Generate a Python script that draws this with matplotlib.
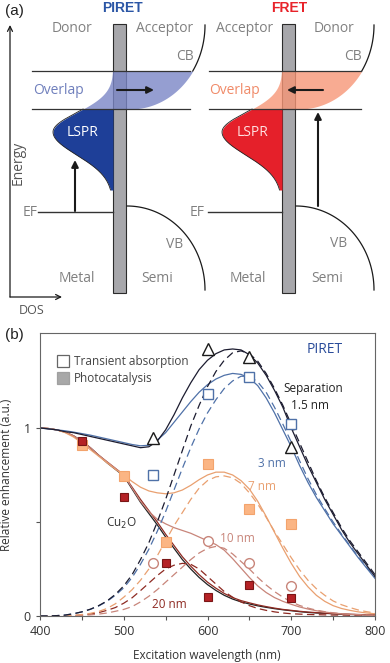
import numpy as np
import matplotlib
matplotlib.use('Agg')
import matplotlib.pyplot as plt
from matplotlib.patches import Rectangle
from matplotlib.lines import Line2D

plt.rcParams['font.family'] = ['Open Sans', 'DejaVu Sans']

# ---------------- panel (b) data ----------------
WL = list(range(400, 801, 10))

SEP15 = [1.00, 0.995, 0.99, 0.98, 0.975, 0.965, 0.955, 0.945, 0.935, 0.925,
         0.915, 0.905, 0.895, 0.90, 0.93, 0.99, 1.07, 1.16, 1.24, 1.31,
         1.36, 1.395, 1.415, 1.42, 1.415, 1.39, 1.345, 1.28, 1.20, 1.11,
         1.00, 0.90, 0.80, 0.71, 0.62, 0.54, 0.46, 0.39, 0.33, 0.27, 0.21]
SEP15_FIT = [0, 0, 0.002, 0.005, 0.012, 0.022, 0.036, 0.055, 0.08, 0.115,
             0.16, 0.22, 0.30, 0.39, 0.50, 0.62, 0.75, 0.88, 1.01, 1.12,
             1.22, 1.30, 1.36, 1.40, 1.41, 1.395, 1.355, 1.29, 1.21, 1.12,
             1.02, 0.92, 0.82, 0.72, 0.63, 0.55, 0.47, 0.40, 0.34, 0.28, 0.22]
SEP3 = [1.00, 0.995, 0.99, 0.985, 0.978, 0.97, 0.962, 0.952, 0.942, 0.932,
        0.922, 0.912, 0.905, 0.908, 0.935, 0.975, 1.03, 1.085, 1.14, 1.19,
        1.23, 1.26, 1.28, 1.29, 1.285, 1.265, 1.225, 1.16, 1.08, 0.99,
        0.90, 0.80, 0.71, 0.63, 0.56, 0.49, 0.43, 0.37, 0.31, 0.255, 0.20]
SEP3_FIT = [0, 0, 0.002, 0.005, 0.012, 0.022, 0.035, 0.053, 0.078, 0.11,
            0.15, 0.205, 0.275, 0.355, 0.45, 0.555, 0.67, 0.785, 0.895, 0.995,
            1.08, 1.15, 1.21, 1.25, 1.275, 1.275, 1.245, 1.19, 1.11, 1.02,
            0.925, 0.825, 0.73, 0.645, 0.57, 0.50, 0.435, 0.375, 0.315, 0.26, 0.205]
SEP7 = [1.00, 0.997, 0.99, 0.975, 0.952, 0.92, 0.885, 0.85, 0.815, 0.78,
        0.75, 0.715, 0.685, 0.665, 0.655, 0.65, 0.655, 0.67, 0.695, 0.725,
        0.75, 0.765, 0.765, 0.75, 0.72, 0.675, 0.61, 0.53, 0.445, 0.36,
        0.28, 0.21, 0.155, 0.11, 0.078, 0.055, 0.04, 0.03, 0.022, 0.016, 0.012]
SEP7_FIT = [0, 0, 0, 0, 0.004, 0.008, 0.014, 0.024, 0.04, 0.065,
            0.10, 0.14, 0.19, 0.25, 0.32, 0.40, 0.48, 0.55, 0.62, 0.68,
            0.72, 0.74, 0.745, 0.735, 0.705, 0.655, 0.595, 0.525, 0.45, 0.38,
            0.31, 0.245, 0.19, 0.145, 0.11, 0.08, 0.06, 0.045, 0.032, 0.023, 0.016]
SEP10 = [1.00, 0.997, 0.99, 0.978, 0.958, 0.93, 0.895, 0.855, 0.82, 0.785,
         0.75, 0.68, 0.61, 0.555, 0.515, 0.49, 0.47, 0.455, 0.44, 0.42,
         0.40, 0.38, 0.35, 0.305, 0.255, 0.205, 0.16, 0.125, 0.098, 0.078,
         0.062, 0.048, 0.037, 0.028, 0.021, 0.016, 0.012, 0.009, 0.007, 0.005, 0.004]
SEP10_FIT = [0, 0, 0, 0, 0, 0.003, 0.006, 0.01, 0.016, 0.025,
             0.035, 0.05, 0.075, 0.105, 0.14, 0.18, 0.22, 0.26, 0.30, 0.335,
             0.36, 0.37, 0.36, 0.33, 0.29, 0.25, 0.205, 0.165, 0.13, 0.10,
             0.075, 0.056, 0.042, 0.031, 0.023, 0.017, 0.012, 0.009, 0.007, 0.005, 0.004]
SEP20 = [1.00, 0.997, 0.99, 0.978, 0.958, 0.93, 0.895, 0.855, 0.82, 0.785,
         0.75, 0.685, 0.62, 0.56, 0.50, 0.435, 0.375, 0.315, 0.265, 0.22,
         0.18, 0.148, 0.12, 0.098, 0.082, 0.07, 0.059, 0.05, 0.042, 0.035,
         0.03, 0.025, 0.021, 0.018, 0.015, 0.013, 0.011, 0.009, 0.008, 0.007, 0.006]
SEP20_FIT = [0, 0, 0, 0, 0.002, 0.005, 0.01, 0.018, 0.03, 0.045,
             0.068, 0.097, 0.135, 0.175, 0.215, 0.25, 0.27, 0.28, 0.275, 0.25,
             0.21, 0.17, 0.13, 0.10, 0.075, 0.055, 0.04, 0.03, 0.022, 0.016,
             0.012, 0.01, 0.008, 0.007, 0.006, 0.005, 0.005, 0.004, 0.004, 0.003, 0.003]
CU2O = [1.00, 0.997, 0.99, 0.978, 0.958, 0.93, 0.895, 0.855, 0.815, 0.78,
        0.745, 0.675, 0.605, 0.545, 0.485, 0.42, 0.36, 0.30, 0.25, 0.205,
        0.167, 0.136, 0.11, 0.09, 0.075, 0.064, 0.054, 0.046, 0.039, 0.033,
        0.028, 0.023, 0.019, 0.016, 0.014, 0.012, 0.01, 0.008, 0.007, 0.006, 0.005]

# transient absorption (open symbols)
TA_WL = [535, 600, 650, 700]
TA_15 = [0.945, 1.42, 1.38, 0.90]
TA_3 = [0.75, 1.18, 1.27, 1.02]
TA_10 = [0.28, 0.40, 0.28, 0.16]
# photocatalysis (filled squares)
PC_WL = [450, 500, 550, 600, 650, 700]
PC_7 = [0.91, 0.745, 0.395, 0.81, 0.57, 0.49]
PC_20 = [0.93, 0.635, 0.28, 0.10, 0.165, 0.097]

C15 = '#1c1c30'
C3 = '#4f71a8'
C7 = '#e9a070'
C10 = '#c8857a'
C20 = '#8e2a22'
CCU = '#222222'

GRAY_TXT = '#808080'

fig = plt.figure(figsize=(3.9, 6.63), dpi=100)

# ---------------- panel (a): schematic, pixel coordinates ----------------
ax_a = fig.add_axes([0, 1 - 320 / 663, 1, 320 / 663])
ax_a.set_xlim(0, 390)
ax_a.set_ylim(320, 0)
ax_a.axis('off')

LSPR_Y0 = 132.0
LSPR_W = 60.0


def lspr_width(y):
    s = np.where(y < LSPR_Y0, 19.5, 23.0)
    return LSPR_W * np.exp(-(y - LSPR_Y0) ** 2 / (2 * s ** 2))


def draw_side(x_bar, cb_cx, vb_cx, x_lines, lspr_col, ovl_col):
    ax_a.add_patch(Rectangle((x_bar, 24), 13, 269, fc='#a7a7ab', ec='#2b2b2b',
                             lw=0.8, zorder=2))
    y = np.linspace(109, 190, 150)
    xl = x_bar - lspr_width(y)
    ax_a.fill_betweenx(y, xl, x_bar, color=lspr_col, lw=0, zorder=3)
    ax_a.plot(xl, y, color='#202020', lw=0.6, zorder=3)
    yo = np.linspace(71, 109, 80)
    xlo = x_bar - lspr_width(yo)
    xro = cb_cx + 75 * np.sqrt(np.clip(1 - ((yo - 25) / 84) ** 2, 0, 1))
    ax_a.fill_betweenx(yo, xlo, xro, color=ovl_col, alpha=0.8, lw=0, zorder=4)
    t = np.linspace(0, 0.58, 40)
    ax_a.plot(cb_cx + 75 * np.cos(t), 25 + 84 * np.sin(t), color='#1a1a1a', lw=0.9, zorder=5)
    t = np.linspace(0, np.pi / 2, 60)
    ax_a.plot(vb_cx + 78 * np.sin(t), 290 - 84 * np.cos(t), color='#1a1a1a', lw=0.9, zorder=5)
    for yy in (71, 109):
        ax_a.plot(x_lines, [yy, yy], color='#333333', lw=0.9, zorder=5)


def arrow(tail, tip, lw=1.5, style='-|>', ms=10, col='#1a1a1a'):
    ax_a.annotate('', xy=tip, xytext=tail,
                  arrowprops=dict(arrowstyle=style, lw=lw, color=col,
                                  mutation_scale=ms, shrinkA=0, shrinkB=0),
                  zorder=6)


draw_side(113, 130, 127, [32, 190], '#1e3f98', '#7b86c6')
draw_side(282, 299, 296, [209, 361], '#e5202a', '#f79677')

# EF lines
ax_a.plot([38, 113], [212, 212], color='#333333', lw=1.0, zorder=5)
ax_a.plot([208, 282], [212, 212], color='#333333', lw=1.0, zorder=5)

# arrows
arrow((117, 90), (154, 90))
arrow((323, 90), (287, 90))
arrow((75, 211), (75, 160))
arrow((318, 206), (318, 112))
# energy / DOS axes
arrow((10, 297), (10, 25), lw=0.9, style='->', ms=9)
arrow((10, 297), (62, 297), lw=0.9, style='->', ms=9)

ax_a.text(14, 11, '(a)', fontsize=11, ha='center', va='center', color='#222222',
          family=['Liberation Sans', 'DejaVu Sans'])
ax_a.text(122, 8, 'PIRET', fontsize=10, fontweight='bold', color='#2a55a5',
          ha='center', va='center', family=['Liberation Sans', 'DejaVu Sans'])
ax_a.text(289, 8, 'FRET', fontsize=10, fontweight='bold', color='#e8232a',
          ha='center', va='center', family=['Liberation Sans', 'DejaVu Sans'])
ax_a.text(18, 163, 'Energy', fontsize=10, rotation=90, ha='center', va='center', color='#555555')
ax_a.text(32, 310, 'DOS', fontsize=9, ha='center', va='center', color='#555555')

labels = [
    ('Donor', 72, 28), ('Acceptor', 165, 28), ('Acceptor', 245, 28), ('Donor', 334, 28),
    ('CB', 185, 57), ('CB', 353, 57), ('VB', 175, 244), ('VB', 339, 243),
    ('EF', 30, 212), ('EF', 197, 212), ('Metal', 77, 278), ('Semi', 157, 278),
    ('Metal', 248, 278), ('Semi', 327, 278),
]
for txt, x, y in labels:
    ax_a.text(x, y, txt, fontsize=10, ha='center', va='center', color=GRAY_TXT, zorder=7)
ax_a.text(59, 91, 'Overlap', fontsize=10, ha='center', va='center', color='#6f7fbc', zorder=7)
ax_a.text(235, 91, 'Overlap', fontsize=10, ha='center', va='center', color='#f08a68', zorder=7)
ax_a.text(82, 133, 'LSPR', fontsize=10, ha='center', va='center', color='white', zorder=7)
ax_a.text(253, 133, 'LSPR', fontsize=10, ha='center', va='center', color='#ffe0e0', zorder=7)

# ---------------- panel (b) ----------------
ax = fig.add_axes([40 / 390, 1 - 616 / 663, 335 / 390, 283 / 663])
ax.set_xlim(400, 800)
ax.set_ylim(0, 1.505)

dash = (0, (6, 3.5))
lw = 0.9
ax.plot(WL, CU2O, color=CCU, lw=lw)
ax.plot(WL, SEP20_FIT, color=C20, lw=lw, ls=dash)
ax.plot(WL, SEP20, color=C20, lw=lw)
ax.plot(WL, SEP10_FIT, color=C10, lw=lw, ls=dash)
ax.plot(WL, SEP10, color=C10, lw=lw)
ax.plot(WL, SEP7_FIT, color=C7, lw=lw, ls=dash)
ax.plot(WL, SEP7, color=C7, lw=lw)
ax.plot(WL, SEP3_FIT, color=C3, lw=lw, ls=dash)
ax.plot(WL, SEP3, color=C3, lw=lw)
ax.plot(WL, SEP15_FIT, color=C15, lw=lw, ls=dash)
ax.plot(WL, SEP15, color=C15, lw=lw)

ax.plot(PC_WL, PC_7, 's', ms=6.5, mfc='#fbb584', mec='#f3a36c', mew=0.8, ls='none')
ax.plot(PC_WL, PC_20, 's', ms=6, mfc='#b52226', mec='#7a1616', mew=0.8, ls='none')
ax.plot(TA_WL, TA_3, 's', ms=6.5, mfc='white', mec=C3, mew=1.0, ls='none')
ax.plot(TA_WL, TA_15, '^', ms=8, mfc='white', mec='#1a1a1a', mew=1.0, ls='none')
ax.plot(TA_WL, TA_10, 'o', ms=7, mfc='white', mec=C10, mew=1.0, ls='none')

ax.text(740, 1.415, 'PIRET', fontsize=10, color='#2a4c9a', ha='center', va='center')
ax.text(726, 1.21, 'Separation', fontsize=8.5, color='#222222', ha='center', va='center')
ax.text(722, 1.12, '1.5 nm', fontsize=8.5, color='#222222', ha='center', va='center')
ax.text(677, 0.81, '3 nm', fontsize=8.5, color=C3, ha='center', va='center')
ax.text(665, 0.69, '7 nm', fontsize=8.5, color=C7, ha='center', va='center')
ax.text(636, 0.41, '10 nm', fontsize=8.5, color=C10, ha='center', va='center')
ax.text(555, 0.06, '20 nm', fontsize=8.5, color=C20, ha='center', va='center')
ax.text(497, 0.49, 'Cu$_2$O', fontsize=8.5, color='#333333', ha='center', va='center')

handles = [
    Line2D([], [], marker='s', ls='none', ms=9, mfc='white', mec='#666666', mew=0.9),
    Line2D([], [], marker='s', ls='none', ms=9, mfc='#a8a8a8', mec='#a0a0a0', mew=0.9),
]
ax.legend(handles, ['Transient absorption', 'Photocatalysis'], loc='upper left',
          bbox_to_anchor=(0.02, 0.96), frameon=False, fontsize=8.5, handlelength=1.0,
          handletextpad=0.4, labelspacing=0.35, labelcolor='#444444')

ax.set_xticks([400, 500, 600, 700, 800])
ax.set_xticks([450, 550, 650, 750], minor=True)
ax.set_yticks([0, 0.5, 1])
ax.set_yticklabels(['0', '', '1'])
ax.tick_params(axis='both', which='both', direction='out', length=3, width=0.8,
               colors='#555555', labelsize=9, labelcolor='#333333')
for sp in ax.spines.values():
    sp.set_color('#666666')
    sp.set_linewidth(0.8)

fig.text(207 / 390, 1 - 655 / 663, 'Excitation wavelength (nm)', fontsize=8.5,
         ha='center', va='center', color='#333333')
fig.text(7 / 390, 1 - 475 / 663, 'Relative enhancement (a.u.)', fontsize=8.5,
         rotation=90, ha='center', va='center', color='#333333')
fig.text(14 / 390, 1 - 335 / 663, '(b)', fontsize=11, ha='center', va='center',
         color='#222222', family=['Liberation Sans', 'DejaVu Sans'])

fig.savefig('out.png', dpi=100)
